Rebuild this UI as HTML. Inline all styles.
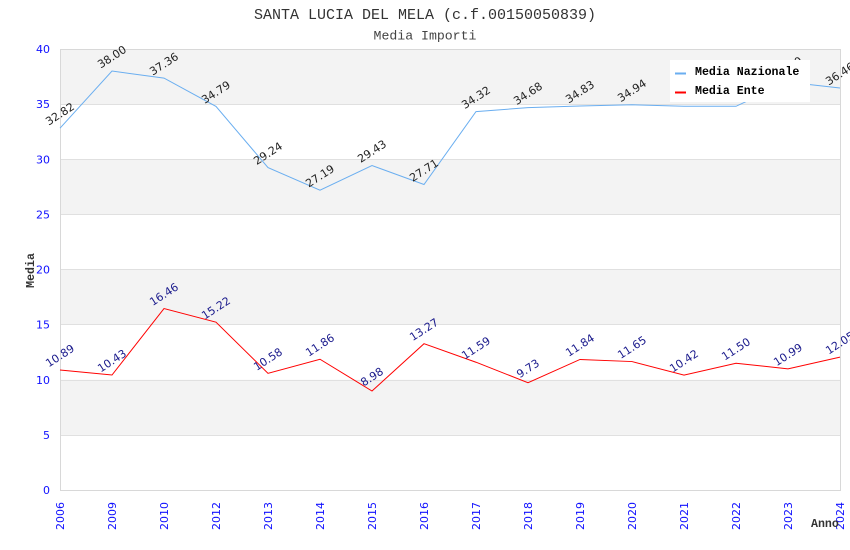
<!DOCTYPE html>
<html><head><meta charset="utf-8"><style>
html,body{margin:0;padding:0;background:#fff;}
svg{display:block;}
.dl{font-family:"DejaVu Sans","Liberation Sans",sans-serif;font-size:11px;}
.tk{font-family:"DejaVu Sans","Liberation Sans",sans-serif;font-size:11px;fill:#1010ff;}
.mono{font-family:"Liberation Mono","DejaVu Sans Mono",monospace;}
</style></head><body>
<svg width="850" height="550" viewBox="0 0 850 550" xmlns="http://www.w3.org/2000/svg">
<rect width="850" height="550" fill="#fff"/>
<!-- bands -->
<rect x="60" y="49" width="780" height="55.1" fill="#f3f3f3"/>
<rect x="60" y="159.25" width="780" height="55.1" fill="#f3f3f3"/>
<rect x="60" y="269.5" width="780" height="55.1" fill="#f3f3f3"/>
<rect x="60" y="379.75" width="780" height="55.1" fill="#f3f3f3"/>
<!-- grid -->
<g stroke="#e0e0e0" stroke-width="1">
<line x1="60" y1="104.5" x2="840" y2="104.5"/>
<line x1="60" y1="159.5" x2="840" y2="159.5"/>
<line x1="60" y1="214.5" x2="840" y2="214.5"/>
<line x1="60" y1="269.5" x2="840" y2="269.5"/>
<line x1="60" y1="324.5" x2="840" y2="324.5"/>
<line x1="60" y1="380.5" x2="840" y2="380.5"/>
<line x1="60" y1="435.5" x2="840" y2="435.5"/>
</g>
<rect x="60.5" y="49.5" width="780" height="441" fill="none" stroke="#d8d8d8" stroke-width="1"/>
<!-- y ticks -->
<g class="tk" text-anchor="end">
<text x="50" y="53">40</text>
<text x="50" y="108">35</text>
<text x="50" y="163.5">30</text>
<text x="50" y="218.5">25</text>
<text x="50" y="273.5">20</text>
<text x="50" y="328.5">15</text>
<text x="50" y="384">10</text>
<text x="50" y="439">5</text>
<text x="50" y="494">0</text>
</g>
<!-- x ticks -->
<g class="tk" text-anchor="end">
<text transform="translate(64,502) rotate(-90)">2006</text>
<text transform="translate(116,502) rotate(-90)">2009</text>
<text transform="translate(168,502) rotate(-90)">2010</text>
<text transform="translate(220,502) rotate(-90)">2012</text>
<text transform="translate(272,502) rotate(-90)">2013</text>
<text transform="translate(324,502) rotate(-90)">2014</text>
<text transform="translate(376,502) rotate(-90)">2015</text>
<text transform="translate(428,502) rotate(-90)">2016</text>
<text transform="translate(480,502) rotate(-90)">2017</text>
<text transform="translate(532,502) rotate(-90)">2018</text>
<text transform="translate(584,502) rotate(-90)">2019</text>
<text transform="translate(636,502) rotate(-90)">2020</text>
<text transform="translate(688,502) rotate(-90)">2021</text>
<text transform="translate(740,502) rotate(-90)">2022</text>
<text transform="translate(792,502) rotate(-90)">2023</text>
<text transform="translate(844,502) rotate(-90)">2024</text>
</g>
<!-- series -->
<polyline fill="none" stroke="#6aaef0" stroke-width="1" points="60,128.16 112,71.05 164,78.11 216,106.44 268,167.63 320,190.23 372,165.53 424,184.5 476,111.62 528,107.65 580,106 632,104.79 684,106.3 736,106.3 788,82.1 840,88.02"/>
<polyline fill="none" stroke="#ff0000" stroke-width="1" points="60,369.94 112,375.01 164,308.53 216,322.2 268,373.36 320,359.24 372,391 424,343.7 476,362.22 528,382.73 580,359.46 632,361.56 684,375.12 736,363.21 788,368.84 840,357.15"/>
<!-- labels blue -->
<g class="dl" fill="#222" text-anchor="middle">
<text transform="translate(62,117.16) rotate(-33)">32.82</text>
<text transform="translate(114,60.05) rotate(-33)">38.00</text>
<text transform="translate(166,67.11) rotate(-33)">37.36</text>
<text transform="translate(218,95.44) rotate(-33)">34.79</text>
<text transform="translate(270,156.63) rotate(-33)">29.24</text>
<text transform="translate(322,179.23) rotate(-33)">27.19</text>
<text transform="translate(374,154.53) rotate(-33)">29.43</text>
<text transform="translate(426,173.5) rotate(-33)">27.71</text>
<text transform="translate(478,100.62) rotate(-33)">34.32</text>
<text transform="translate(530,96.65) rotate(-33)">34.68</text>
<text transform="translate(582,95) rotate(-33)">34.83</text>
<text transform="translate(634,93.79) rotate(-33)">34.94</text>
<text transform="translate(790,71.1) rotate(-33)">37.00</text>
<text transform="translate(842,77.02) rotate(-33)">36.46</text>
</g>
<!-- labels red -->
<g class="dl" fill="#1a1a8c" text-anchor="middle">
<text transform="translate(62,358.94) rotate(-33)">10.89</text>
<text transform="translate(114,364.01) rotate(-33)">10.43</text>
<text transform="translate(166,297.53) rotate(-33)">16.46</text>
<text transform="translate(218,311.2) rotate(-33)">15.22</text>
<text transform="translate(270,362.36) rotate(-33)">10.58</text>
<text transform="translate(322,348.24) rotate(-33)">11.86</text>
<text transform="translate(374,380) rotate(-33)">8.98</text>
<text transform="translate(426,332.7) rotate(-33)">13.27</text>
<text transform="translate(478,351.22) rotate(-33)">11.59</text>
<text transform="translate(530,371.73) rotate(-33)">9.73</text>
<text transform="translate(582,348.46) rotate(-33)">11.84</text>
<text transform="translate(634,350.56) rotate(-33)">11.65</text>
<text transform="translate(686,364.12) rotate(-33)">10.42</text>
<text transform="translate(738,352.21) rotate(-33)">11.50</text>
<text transform="translate(790,357.84) rotate(-33)">10.99</text>
<text transform="translate(842,346.15) rotate(-33)">12.05</text>
</g>
<!-- legend -->
<rect x="670" y="60" width="140" height="42" fill="#fff"/>
<line x1="675" y1="73.5" x2="686" y2="73.5" stroke="#6aaef0" stroke-width="2"/>
<line x1="675" y1="92.5" x2="686" y2="92.5" stroke="#ff0000" stroke-width="2"/>
<g class="mono" font-weight="bold" font-size="11.6" fill="#000">
<text x="695" y="75">Media Nazionale</text>
<text x="695" y="94">Media Ente</text>
</g>
<!-- titles -->
<text class="mono" x="425" y="19" text-anchor="middle" font-size="15" fill="#333">SANTA LUCIA DEL MELA (c.f.00150050839)</text>
<text class="mono" x="425" y="39.5" text-anchor="middle" font-size="13.2" fill="#444">Media Importi</text>
<text class="mono" transform="translate(34,270.5) rotate(-90)" text-anchor="middle" font-weight="bold" font-size="11.6" fill="#333">Media</text>
<text class="mono" x="811" y="527" font-weight="bold" font-size="11.6" fill="#333">Anno</text>
</svg>
</body></html>
